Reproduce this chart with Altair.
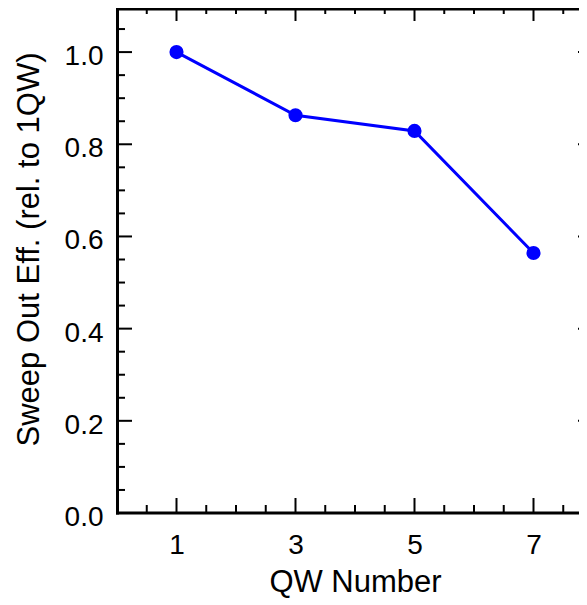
import altair as alt
import pandas as pd

# data
qw = [1, 3, 5, 7]
eff = [1.0, 0.863, 0.829, 0.564]

x_major = [1, 3, 5, 7]
x_minor = [0.5, 1.5, 2, 2.5, 3.5, 4, 4.5, 5.5, 6, 6.5, 7.5]
y_major = [0.0, 0.2, 0.4, 0.6, 0.8, 1.0]
y_minor = [0.05, 0.1, 0.15, 0.25, 0.3, 0.35, 0.45, 0.5, 0.55, 0.65, 0.7, 0.75,
           0.85, 0.9, 0.95, 1.05]

W, H = 462, 505        # visible plot area (right side runs off the page)
XR = 476               # full x range in px (right frame lies beyond the page)
YTOP = -2              # top of the y range in px
FONT = "Liberation Sans"
FS = 28
TFS = 31

df = pd.DataFrame({"x": qw, "y": eff})
dxM = pd.DataFrame({"x": x_major})
dxm = pd.DataFrame({"x": x_minor})
dyM = pd.DataFrame({"y": y_major})
dym = pd.DataFrame({"y": y_minor})
one = pd.DataFrame({"a": [0]})

xscale = alt.Scale(domain=[0, 8], range=[0, XR], nice=False, zero=False)
yscale = alt.Scale(domain=[0, 1.1], range=[H, YTOP], nice=False, zero=False)

xaxis = alt.Axis(values=x_major, ticks=False, tickSize=0, domain=False, grid=False,
                 labelFont=FONT, labelFontSize=FS, labelColor="black",
                 labelBaseline="alphabetic", labelPadding=40,
                 title="QW Number", titleFont=FONT, titleFontSize=TFS, titleFontWeight="normal",
                 titleColor="black", titleBaseline="alphabetic", titleX=XR / 2, titleY=78)
yaxis = alt.Axis(values=y_major, format=".1f", ticks=False, tickSize=0, domain=False, grid=False,
                 labelFont=FONT, labelFontSize=FS, labelColor="black", labelPadding=14,
                 labelBaseline="alphabetic", labelOffset=12.5,
                 title="Sweep Out Eff. (rel. to 1QW)", titleFont=FONT, titleFontSize=TFS,
                 titleFontWeight="normal", titleColor="black", titleBaseline="alphabetic",
                 titleX=-79, titleY=241)

X = alt.X("x:Q", scale=xscale, axis=xaxis)
Y = alt.Y("y:Q", scale=yscale, axis=yaxis)

line = alt.Chart(df).mark_line(color="#0000ff", strokeWidth=3).encode(x=X, y=Y)
pts = alt.Chart(df).mark_point(filled=True, color="#0000ff", size=200, opacity=1).encode(x=X, y=Y)

tick_style = dict(color="black", strokeWidth=2)
frame_style = dict(color="black", strokeWidth=3)

def xticks(d, length):
    bottom = alt.Chart(d).mark_rule(**tick_style).encode(
        x=X, y=alt.value(H), y2=alt.value(H - length))
    top = alt.Chart(d).mark_rule(**tick_style).encode(
        x=X, y=alt.value(YTOP), y2=alt.value(YTOP + length))
    return [bottom, top]

def yticks(d, length):
    left = alt.Chart(d).mark_rule(**tick_style).encode(
        y=Y, x=alt.value(0), x2=alt.value(length))
    right = alt.Chart(d).mark_rule(**tick_style).encode(
        y=Y, x=alt.value(XR), x2=alt.value(XR - length))
    return [left, right]

frame = [
    alt.Chart(one).mark_rule(**frame_style).encode(
        x=alt.value(0.5), y=alt.value(0), y2=alt.value(H + 1.5)),
    alt.Chart(one).mark_rule(**frame_style).encode(
        x=alt.value(-1), x2=alt.value(XR + 2), y=alt.value(H)),
    alt.Chart(one).mark_rule(**frame_style).encode(
        x=alt.value(-1), x2=alt.value(XR + 2), y=alt.value(1)),
]

layers = (frame + xticks(dxM, 15) + xticks(dxm, 8) + yticks(dyM, 15) + yticks(dym, 8)
          + [line, pts])

chart = alt.layer(*layers).properties(
    width=W, height=H,
    autosize=alt.AutoSizeParams(type="none"),
    padding={"left": 109, "top": 0, "right": 0, "bottom": 85},
).configure_view(strokeWidth=0).configure(background="white")

chart.save("out.html", embed_options={"renderer": "svg", "actions": False})
